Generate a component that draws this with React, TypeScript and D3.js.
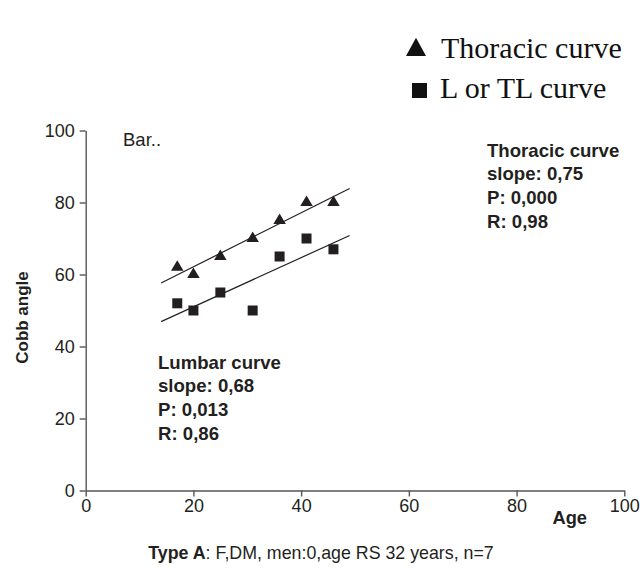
import React, { useRef, useEffect } from "react";
import * as d3 from "d3";

const ages = [17, 20, 25, 31, 36, 41, 46];
const thoracic = [62, 60, 65, 70, 75, 80, 80];
const lumbar = [52, 50, 55, 50, 65, 70, 67];
const fitRange = [14, 49];
const xTicks = [0, 20, 40, 60, 80, 100];
const yTicks = [0, 20, 40, 60, 80, 100];
const thoracicStats = ["Thoracic curve", "slope: 0,75", "P: 0,000", "R: 0,98"];
const lumbarStats = ["Lumbar curve", "slope: 0,68", "P: 0,013", "R: 0,86"];

function fit(xs: number[], ys: number[]) {
  const mx = d3.mean(xs) || 0;
  const my = d3.mean(ys) || 0;
  const sxy = d3.sum(xs, (x, i) => (x - mx) * (ys[i] - my));
  const sxx = d3.sum(xs, (x) => (x - mx) * (x - mx));
  const b = sxy / sxx;
  return (x: number) => my + b * (x - mx);
}

// triangle centred on its centroid
const triPath = (w: number, h: number) =>
  `M0,${(-h * 2) / 3}L${w / 2},${h / 3}L${-w / 2},${h / 3}Z`;

export default function App() {
  const svgRef = useRef<SVGSVGElement>(null);

  useEffect(() => {
    if (!svgRef.current) return;
    const svg = d3.select(svgRef.current);
    svg.selectAll("*").remove();

    const width = 642;
    const height = 572;
    const sans = "'Liberation Sans', Arial, sans-serif";
    const serif = "'Liberation Serif', 'Times New Roman', serif";
    const ink = "#231f20";

    svg.attr("width", width).attr("height", height);
    svg.append("rect").attr("width", width).attr("height", height).attr("fill", "#fff");

    const x = d3.scaleLinear().domain([0, 100]).range([85.7, 624.3]);
    const y = d3.scaleLinear().domain([0, 100]).range([490.5, 130.5]);

    // Y axis
    const yAxis = svg
      .append("g")
      .attr("transform", `translate(${x(0)},0)`)
      .call(d3.axisLeft(y).tickValues(yTicks).tickSize(6).tickSizeOuter(0).tickPadding(5));
    yAxis.selectAll("text").attr("font-size", "18px").attr("font-family", sans).attr("fill", ink);

    // X axis
    const xAxis = svg
      .append("g")
      .attr("transform", `translate(0,${y(0)})`)
      .call(d3.axisBottom(x).tickValues(xTicks).tickSize(6).tickSizeOuter(0).tickPadding(3));
    xAxis.selectAll("text").attr("font-size", "18px").attr("font-family", sans).attr("fill", ink);
    svg.selectAll(".domain, .tick line").attr("stroke", "#555").attr("stroke-width", 1.4);

    // Regression lines
    [thoracic, lumbar].forEach((ys) => {
      const f = fit(ages, ys);
      svg
        .append("line")
        .attr("x1", x(fitRange[0]))
        .attr("x2", x(fitRange[1]))
        .attr("y1", y(f(fitRange[0])))
        .attr("y2", y(f(fitRange[1])))
        .attr("stroke", ink)
        .attr("stroke-width", 1.2);
    });

    // Points
    ages.forEach((a, i) => {
      svg
        .append("path")
        .attr("d", triPath(12.5, 10.5))
        .attr("transform", `translate(${x(a)},${y(thoracic[i])})`)
        .attr("fill", ink);
      svg
        .append("rect")
        .attr("x", x(a) - 5)
        .attr("y", y(lumbar[i]) - 5)
        .attr("width", 10)
        .attr("height", 10)
        .attr("fill", ink);
    });

    // Stats text
    const stats = (lines: string[], tx: number, ty: number) => {
      lines.forEach((t, i) => {
        svg
          .append("text")
          .attr("x", tx)
          .attr("y", ty + i * 23.7)
          .attr("font-family", sans)
          .attr("font-weight", "bold")
          .attr("font-size", "18.6px")
          .attr("fill", ink)
          .text(t);
      });
    };
    stats(thoracicStats, 487, 156.5);
    stats(lumbarStats, 158, 368.5);

    svg
      .append("text")
      .attr("x", 123)
      .attr("y", 146)
      .attr("font-family", sans)
      .attr("font-size", "18.5px")
      .attr("fill", ink)
      .text("Bar..");

    // Axis titles
    svg
      .append("text")
      .attr("transform", "translate(28,317.5) rotate(-90)")
      .attr("text-anchor", "middle")
      .attr("font-family", sans)
      .attr("font-weight", "bold")
      .attr("font-size", "17px")
      .attr("fill", ink)
      .text("Cobb angle");
    svg
      .append("text")
      .attr("x", 552.5)
      .attr("y", 524)
      .attr("font-family", sans)
      .attr("font-weight", "bold")
      .attr("font-size", "18.3px")
      .attr("fill", ink)
      .text("Age");

    // Caption
    const cap = svg
      .append("text")
      .attr("x", 321)
      .attr("y", 559)
      .attr("text-anchor", "middle")
      .attr("font-family", sans)
      .attr("font-size", "17.8px")
      .attr("fill", ink);
    cap.append("tspan").attr("font-weight", "bold").text("Type A");
    cap.append("tspan").text(": F,DM, men:0,age RS 32 years, n=7");

    // Legend
    const legend = svg.append("g");
    legend
      .append("path")
      .attr("d", "M416,37.7L426,56L406,56Z")
      .attr("fill", "#111");
    legend
      .append("rect")
      .attr("x", 412)
      .attr("y", 83)
      .attr("width", 15)
      .attr("height", 15)
      .attr("fill", "#111");
    legend
      .append("text")
      .attr("x", 441)
      .attr("y", 58)
      .attr("font-family", serif)
      .attr("font-size", "30px")
      .attr("fill", "#111")
      .text("Thoracic curve");
    legend
      .append("text")
      .attr("x", 440)
      .attr("y", 98)
      .attr("font-family", serif)
      .attr("font-size", "30px")
      .attr("fill", "#111")
      .text("L or TL curve");
  }, []);

  return <svg ref={svgRef} style={{ position: "absolute", left: 0, top: 0 }} />;
}
